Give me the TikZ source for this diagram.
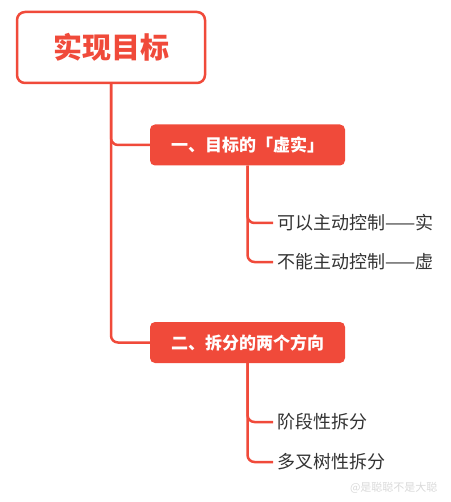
\documentclass[tikz,border=0pt]{standalone}
\usepackage{fontspec}
\setmainfont{Noto Sans CJK SC}
\usetikzlibrary{positioning}
\definecolor{mapred}{HTML}{F04A3A}
\definecolor{leafgray}{HTML}{333333}

\begin{document}
\begin{tikzpicture}[x=1pt,y=-1pt,
    rootbox/.style={draw=mapred,line width=2.5pt,fill=white,rounded corners=8pt,
      minimum width=188pt,minimum height=71pt,text=mapred,font=\fontsize{29}{32}\selectfont\bfseries},
    topicbox/.style={fill=mapred,rounded corners=5pt,minimum width=195pt,minimum height=41pt,
      text=white,font=\fontsize{17}{20}\selectfont\bfseries},
    leaf/.style={anchor=west,inner sep=4pt,text=leafgray,font=\fontsize{18}{21}\selectfont},
    branch/.style={draw=mapred,line width=2.5pt,rounded corners=7pt}]
  \useasboundingbox (0,0) rectangle (450,502);
  \node[rootbox] (root) at (111,47.5) {实现目标};
  \node[topicbox] (goal) at (247.5,145) {一、目标的「虚实」};
  \node[topicbox] (split) at (247.5,342.5) {二、拆分的两个方向};
  %% leaves under the first topic
  \node[leaf] (active) at (273,223) {可以主动控制——实};
  \node[leaf] (passive) at (273,262) {不能主动控制——虚};
  %% leaves under the second topic
  \node[leaf] (stage) at (273,422) {阶段性拆分};
  \node[leaf] (tree) at (273,462) {多叉树性拆分};
  \draw[branch] (root.south) |- (goal.west);
  \draw[branch] (root.south) |- (split.west);
  \draw[branch] (goal.south) |- (active.west);
  \draw[branch] (goal.south) |- (passive.west);
  \draw[branch] (split.south) |- (stage.west);
  \draw[branch] (split.south) |- (tree.west);
  \node[anchor=east,text=black!15,font=\fontsize{11}{13}\selectfont] (mark) at (441,488) {@是聪聪不是大聪};
\end{tikzpicture}
\end{document}
